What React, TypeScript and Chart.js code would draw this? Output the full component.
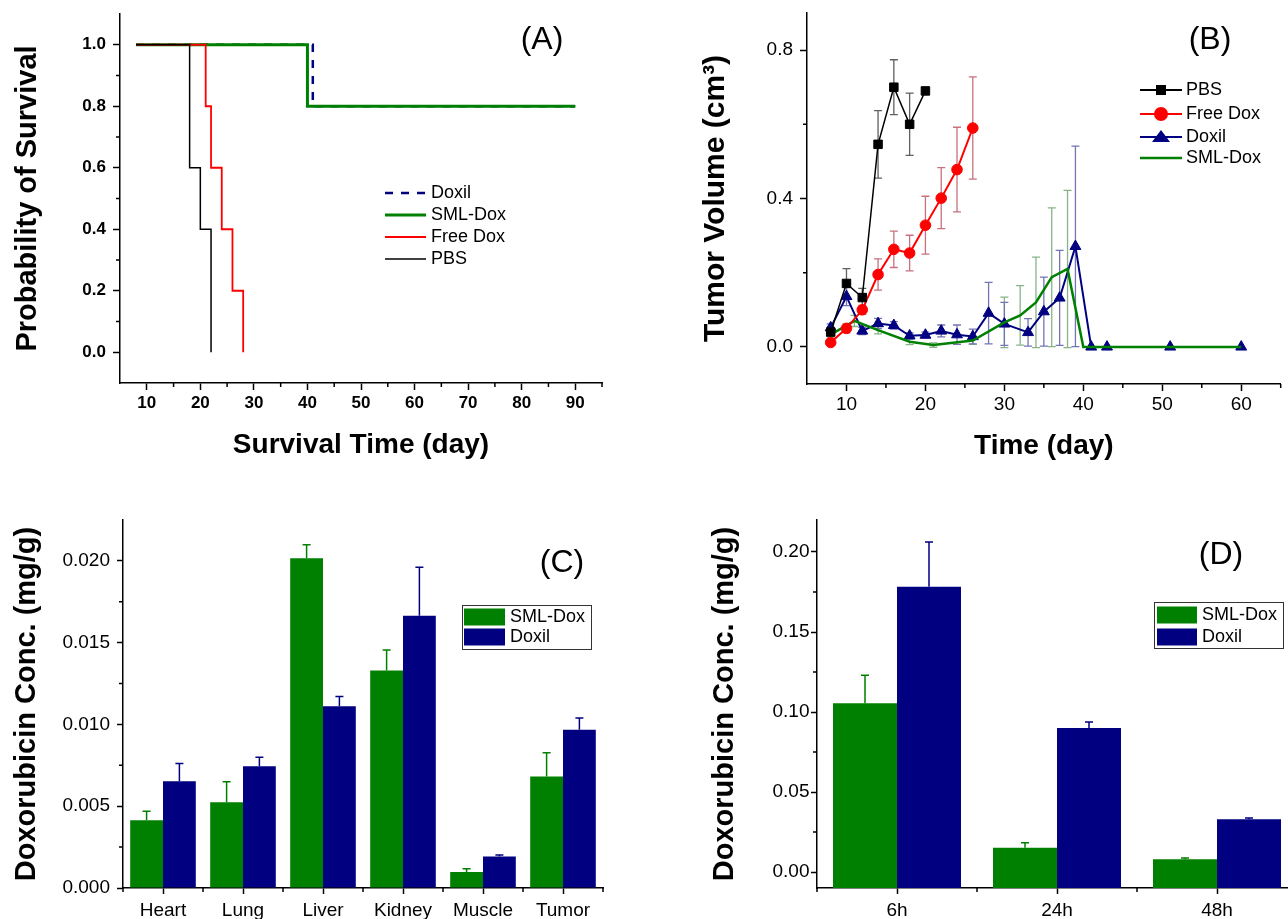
import React, { useEffect, useRef } from 'react';
import { Chart, registerables } from 'chart.js';

Chart.register(...registerables);

const FONT = '"Liberation Sans", Arial, Helvetica, sans-serif';
Chart.defaults.font.family = FONT;
Chart.defaults.color = '#000';

const GREEN = '#008000';
const NAVY = '#000080';
const RED = '#ff0000';
const BLACK = '#000000';

// ---------------- Panel A : survival ----------------
const survPbsDays = [8, 18, 20, 22];
const survPbsProb = [1.0, 0.6, 0.4, 0.0];
const survFreeDays = [8, 21, 22, 24, 26, 28];
const survFreeProb = [1.0, 0.8, 0.6, 0.4, 0.2, 0.0];
const survSmlDays = [8, 40, 90];
const survSmlProb = [1.0, 0.8, 0.8];
const survDoxilDays = [8, 41, 90];
const survDoxilProb = [1.0, 0.8, 0.8];
const aXTicks = [10, 20, 30, 40, 50, 60, 70, 80, 90];
const aXMinor = [15, 25, 35, 45, 55, 65, 75, 85, 95];
const aYTicks = [0, 0.2, 0.4, 0.6, 0.8, 1.0];
const aYMinor = [0.1, 0.3, 0.5, 0.7, 0.9];

// ---------------- Panel B : tumor volume ----------------
const pbsDays = [8, 10, 12, 14, 16, 18, 20];
const pbsVol = [0.04, 0.171, 0.133, 0.546, 0.7, 0.6, 0.69];
const pbsErr = [0.005, 0.04, 0.025, 0.091, 0.074, 0.084, 0];

const freeDays = [8, 10, 12, 14, 16, 18, 20, 22, 24, 26];
const freeVol = [0.012, 0.05, 0.1, 0.195, 0.263, 0.253, 0.328, 0.401, 0.478, 0.59];
const freeErr = [0.004, 0.012, 0.012, 0.042, 0.049, 0.048, 0.078, 0.082, 0.114, 0.138];

const doxilDays = [8, 10, 12, 14, 16, 18, 20, 22, 24, 26, 28, 30, 33, 35, 37, 39, 41, 43, 51, 60];
const doxilVol = [0.052, 0.136, 0.043, 0.063, 0.058, 0.03, 0.032, 0.043, 0.033, 0.028, 0.091, 0.062, 0.039, 0.095, 0.132, 0.271, 0, 0, 0, 0];
const doxilErr = [0.01, 0.025, 0.01, 0.014, 0.01, 0.008, 0.008, 0.016, 0.026, 0.02, 0.083, 0.058, 0.037, 0.093, 0.128, 0.27, 0, 0, 0, 0];

const smlDays = [8, 11, 14, 18, 21, 26, 30, 32, 34, 36, 38, 40, 41, 43, 51, 60];
const smlVol = [0.033, 0.07, 0.045, 0.014, 0.005, 0.017, 0.066, 0.085, 0.12, 0.188, 0.21, 0, 0, 0, 0, 0];
const smlErr = [0.006, 0.015, 0.01, 0.008, 0.006, 0.01, 0.068, 0.08, 0.122, 0.187, 0.212, 0, 0, 0, 0, 0];

const bXTicks = [10, 20, 30, 40, 50, 60];
const bXMinor = [15, 25, 35, 45, 55, 65];
const bYTicks = [0, 0.4, 0.8];
const bYMinor = [0.2, 0.6];

// ---------------- Panel C : organ distribution ----------------
const cOrgans = ['Heart', 'Lung', 'Liver', 'Kidney', 'Muscle', 'Tumor'];
const cSml = [0.00414, 0.00524, 0.02016, 0.0133, 0.00098, 0.00682];
const cSmlErr = [0.00055, 0.00125, 0.00082, 0.00125, 0.0002, 0.00145];
const cDoxil = [0.00653, 0.00745, 0.01112, 0.01665, 0.00192, 0.00967];
const cDoxilErr = [0.00108, 0.00055, 0.00059, 0.00296, 0.0001, 0.00072];
const cYTicks = [0, 0.005, 0.01, 0.015, 0.02];
const cYMinor = [0.0025, 0.0075, 0.0125, 0.0175];

// ---------------- Panel D : tumor over time ----------------
const dTimes = ['6h', '24h', '48h'];
const dSml = [0.1054, 0.0152, 0.0079];
const dSmlErr = [0.0175, 0.0031, 0.0009];
const dDoxil = [0.1783, 0.09, 0.0329];
const dDoxilErr = [0.028, 0.0038, 0.0009];
const dYTicks = [0, 0.05, 0.1, 0.15, 0.2];
const dYMinor = [0.025, 0.075, 0.125, 0.175];

// ---------------- helpers ----------------
const pts = (xs: number[], ys: number[]) => xs.map((x, i) => ({ x, y: ys[i] }));

const setTicks = (vals: number[]) => (scale: any) => {
  scale.ticks = vals.map((v) => ({ value: v }));
};

const fitScale = (w: number | null, h: number | null) => (scale: any) => {
  if (w !== null) scale.width = w;
  if (h !== null) scale.height = h;
  scale.paddingTop = 0;
  scale.paddingBottom = 0;
  scale.paddingLeft = 0;
  scale.paddingRight = 0;
};

const gridOpts = (len: number) => ({
  display: true,
  drawOnChartArea: false,
  drawTicks: true,
  tickLength: len,
  tickWidth: 1.5,
  tickColor: BLACK,
  offset: false,
});

const borderOpts = { display: true, color: BLACK, width: 1.5 };

function drawMinor(chart: any, axis: 'x' | 'y', values: number[], len: number) {
  const ctx = chart.ctx;
  const s = chart.scales[axis];
  const a = chart.chartArea;
  ctx.save();
  ctx.strokeStyle = BLACK;
  ctx.lineWidth = 1.5;
  ctx.beginPath();
  values.forEach((v) => {
    const p = s.getPixelForValue(v);
    if (axis === 'y') {
      ctx.moveTo(a.left - len, p);
      ctx.lineTo(a.left, p);
    } else {
      ctx.moveTo(p, a.bottom);
      ctx.lineTo(p, a.bottom + len);
    }
  });
  ctx.stroke();
  ctx.restore();
}

function drawErrorBars(chart: any, symmetric: boolean, capHalf: number, lw: number) {
  const ctx = chart.ctx;
  const ys = chart.scales.y;
  chart.data.datasets.forEach((ds: any, i: number) => {
    if (!ds.errors) return;
    const meta = chart.getDatasetMeta(i);
    ctx.save();
    ctx.strokeStyle = ds.errorColor;
    ctx.lineWidth = lw;
    meta.data.forEach((el: any, j: number) => {
      const e = ds.errors[j];
      if (!e) return;
      const raw = ds.data[j];
      const v = typeof raw === 'number' ? raw : raw.y;
      const x = el.x;
      const yTop = ys.getPixelForValue(v + e);
      const yBot = symmetric ? ys.getPixelForValue(v - e) : el.y;
      ctx.beginPath();
      ctx.moveTo(x, yTop);
      ctx.lineTo(x, yBot);
      ctx.moveTo(x - capHalf, yTop);
      ctx.lineTo(x + capHalf, yTop);
      if (symmetric) {
        ctx.moveTo(x - capHalf, yBot);
        ctx.lineTo(x + capHalf, yBot);
      }
      ctx.stroke();
    });
    ctx.restore();
  });
}

function drawText(ctx: any, s: string, x: number, y: number, font: string, align: string = 'left') {
  ctx.save();
  ctx.font = font;
  ctx.fillStyle = BLACK;
  ctx.textAlign = align;
  ctx.textBaseline = 'middle';
  ctx.fillText(s, x, y);
  ctx.restore();
}

const LABEL_FONT = `32px ${FONT}`;
const LEGEND_FONT = `18px ${FONT}`;

function drawLegendLine(ctx: any, x1: number, x2: number, y: number, color: string, width: number, dash: number[] = []) {
  ctx.save();
  ctx.strokeStyle = color;
  ctx.lineWidth = width;
  ctx.setLineDash(dash);
  ctx.beginPath();
  ctx.moveTo(x1, y);
  ctx.lineTo(x2, y);
  ctx.stroke();
  ctx.restore();
}

function drawMarker(ctx: any, style: string, x: number, y: number, color: string) {
  ctx.save();
  ctx.fillStyle = color;
  ctx.beginPath();
  if (style === 'rect') ctx.rect(x - 5, y - 5, 10, 10);
  else if (style === 'circle') ctx.arc(x, y, 7, 0, Math.PI * 2);
  else if (style === 'triangle') {
    ctx.moveTo(x, y - 7);
    ctx.lineTo(x + 9, y + 5);
    ctx.lineTo(x - 9, y + 5);
    ctx.closePath();
  }
  ctx.fill();
  ctx.restore();
}

function drawBarLegend(ctx: any, ox: number, oy: number, box: number[], rows: any[], textX: number, swX: number[]) {
  ctx.save();
  ctx.strokeStyle = '#333333';
  ctx.lineWidth = 1;
  ctx.strokeRect(box[0] - ox + 0.5, box[1] - oy + 0.5, box[2] - box[0], box[3] - box[1]);
  ctx.restore();
  rows.forEach((r) => {
    ctx.save();
    ctx.fillStyle = r.color;
    ctx.fillRect(swX[0] - ox, r.y - 8.5 - oy, swX[1] - swX[0], 17);
    ctx.restore();
    drawText(ctx, r.label, textX - ox, r.y - oy, LEGEND_FONT);
  });
}

// ---------------- panel boxes (page coords) ----------------
const A_BOX = { left: 0, top: 0, width: 640, height: 470 };
const B_BOX = { left: 640, top: 0, width: 648, height: 470 };
const C_BOX = { left: 0, top: 480, width: 640, height: 439 };
const D_BOX = { left: 680, top: 480, width: 630, height: 439 };

const baseOptions = (padding: any) => ({
  animation: false,
  responsive: false,
  maintainAspectRatio: false,
  events: [],
  layout: { padding },
  plugins: { legend: { display: false }, tooltip: { enabled: false }, title: { display: false } },
});

// ---------------- Panel A config ----------------
function configA() {
  const overlay = {
    id: 'overlayA',
    afterDraw(chart: any) {
      const ctx = chart.ctx;
      const ox = A_BOX.left;
      const oy = A_BOX.top;
      drawMinor(chart, 'x', aXMinor, 4);
      drawMinor(chart, 'y', aYMinor, 4);
      drawText(ctx, '(A)', 542 - ox, 40 - oy, LABEL_FONT, 'center');
      const ds = chart.data.datasets;
      const rows = [
        { ds: ds[3], y: 193, w: 2.5, dash: [8, 8] },
        { ds: ds[2], y: 215, w: 3, dash: [] },
        { ds: ds[1], y: 237, w: 2, dash: [] },
        { ds: ds[0], y: 259, w: 1.5, dash: [] },
      ];
      rows.forEach((r) => {
        drawLegendLine(ctx, 385 - ox, 426 - ox, r.y - oy, r.ds.borderColor, r.w, r.dash);
        drawText(ctx, r.ds.label, 431 - ox, r.y - oy, LEGEND_FONT);
      });
    },
  };
  return {
    type: 'line',
    data: {
      datasets: [
        { label: 'PBS', data: pts(survPbsDays, survPbsProb), borderColor: BLACK, borderWidth: 1.5, stepped: true, pointRadius: 0, fill: false },
        { label: 'Free Dox', data: pts(survFreeDays, survFreeProb), borderColor: RED, borderWidth: 1.8, stepped: true, pointRadius: 0, fill: false },
        { label: 'SML-Dox', data: pts(survSmlDays, survSmlProb), borderColor: GREEN, borderWidth: 3, stepped: true, pointRadius: 0, fill: false },
        { label: 'Doxil', data: pts(survDoxilDays, survDoxilProb), borderColor: NAVY, borderWidth: 2.5, borderDash: [8, 8], stepped: true, pointRadius: 0, fill: false },
      ],
    },
    options: {
      ...baseOptions({ left: 0, top: 14, right: 38, bottom: 0 }),
      scales: {
        x: {
          type: 'linear',
          min: 5,
          max: 95,
          afterFit: fitScale(null, 87),
          afterBuildTicks: setTicks(aXTicks),
          ticks: { font: { size: 17, weight: 'bold' }, color: BLACK, padding: 3.3, autoSkip: false, maxRotation: 0, callback: (v: any) => String(v) },
          grid: gridOpts(7),
          border: borderOpts,
          title: { display: true, text: 'Survival Time (day)', color: BLACK, font: { size: 28, weight: 'bold' }, padding: { top: 0, bottom: 8.2 } },
        },
        y: {
          type: 'linear',
          min: -0.1,
          max: 1.1,
          afterFit: fitScale(120, null),
          afterBuildTicks: setTicks(aYTicks),
          ticks: { font: { size: 17, weight: 'bold' }, color: BLACK, padding: 7, autoSkip: false, callback: (v: any) => Number(v).toFixed(1) },
          grid: gridOpts(7),
          border: borderOpts,
          title: { display: true, text: 'Probability of Survival', color: BLACK, font: { size: 29, weight: 'bold' }, padding: { top: 10.1, bottom: 0 } },
        },
      },
    },
    plugins: [overlay],
  };
}

// ---------------- Panel B config ----------------
function configB() {
  const overlay = {
    id: 'overlayB',
    beforeDatasetsDraw(chart: any) {
      drawErrorBars(chart, true, 4, 1.3);
    },
    afterDraw(chart: any) {
      const ctx = chart.ctx;
      const ox = B_BOX.left;
      const oy = B_BOX.top;
      drawMinor(chart, 'x', bXMinor, 4);
      drawMinor(chart, 'y', bYMinor, 4);
      drawText(ctx, '(B)', 1210 - ox, 40 - oy, LABEL_FONT, 'center');
      const ds = chart.data.datasets;
      const rows = [
        { ds: ds[0], y: 90, w: 2, marker: 'rect' },
        { ds: ds[1], y: 114, w: 2, marker: 'circle' },
        { ds: ds[3], y: 137, w: 2, marker: 'triangle' },
        { ds: ds[2], y: 158, w: 2.5, marker: '' },
      ];
      rows.forEach((r) => {
        drawLegendLine(ctx, 1140 - ox, 1182 - ox, r.y - oy, r.ds.borderColor, r.w);
        if (r.marker) drawMarker(ctx, r.marker, 1161 - ox, r.y - oy, r.ds.borderColor);
        drawText(ctx, r.ds.label, 1186 - ox, r.y - oy, LEGEND_FONT);
      });
    },
  };
  return {
    type: 'line',
    data: {
      datasets: [
        {
          label: 'PBS', data: pts(pbsDays, pbsVol), errors: pbsErr, errorColor: '#606060',
          borderColor: BLACK, backgroundColor: BLACK, borderWidth: 1.5, tension: 0,
          pointStyle: 'rect', pointRadius: 6, pointBackgroundColor: BLACK, pointBorderColor: BLACK, pointBorderWidth: 1,
        },
        {
          label: 'Free Dox', data: pts(freeDays, freeVol), errors: freeErr, errorColor: '#c8707e',
          borderColor: RED, backgroundColor: RED, borderWidth: 2, tension: 0,
          pointStyle: 'circle', pointRadius: 5.3, pointBackgroundColor: RED, pointBorderColor: RED, pointBorderWidth: 1,
        },
        {
          label: 'SML-Dox', data: pts(smlDays, smlVol), errors: smlErr, errorColor: '#86b486',
          borderColor: GREEN, backgroundColor: GREEN, borderWidth: 2.5, tension: 0, pointRadius: 0,
        },
        {
          label: 'Doxil', data: pts(doxilDays, doxilVol), errors: doxilErr, errorColor: '#7474b4',
          borderColor: NAVY, backgroundColor: NAVY, borderWidth: 2, tension: 0,
          pointStyle: 'triangle', pointRadius: 6.3, pointBackgroundColor: NAVY, pointBorderColor: NAVY, pointBorderWidth: 1,
        },
      ],
    },
    options: {
      ...baseOptions({ left: 0, top: 13, right: 1, bottom: 0 }),
      scales: {
        x: {
          type: 'linear',
          min: 5,
          max: 65,
          afterFit: fitScale(null, 86),
          afterBuildTicks: setTicks(bXTicks),
          ticks: { font: { size: 19 }, color: BLACK, padding: 2.6, autoSkip: false, maxRotation: 0, callback: (v: any) => String(v) },
          grid: gridOpts(7),
          border: borderOpts,
          title: { display: true, text: 'Time (day)', color: BLACK, font: { size: 28, weight: 'bold' }, padding: { top: 0, bottom: 7.2 } },
        },
        y: {
          type: 'linear',
          min: -0.1,
          max: 0.9,
          afterFit: fitScale(167, null),
          afterBuildTicks: setTicks(bYTicks),
          ticks: { font: { size: 19 }, color: BLACK, padding: 7, autoSkip: false, callback: (v: any) => Number(v).toFixed(1) },
          grid: gridOpts(7),
          border: borderOpts,
          title: { display: true, text: 'Tumor Volume (cm³)', color: BLACK, font: { size: 30, weight: 'bold' }, padding: { top: 58, bottom: 0 } },
        },
      },
    },
    plugins: [overlay],
  };
}

// ---------------- Panel C config ----------------
function configC() {
  const overlay = {
    id: 'overlayC',
    afterDatasetsDraw(chart: any) {
      drawErrorBars(chart, false, 4, 1.5);
    },
    afterDraw(chart: any) {
      const ctx = chart.ctx;
      const ox = C_BOX.left;
      const oy = C_BOX.top;
      drawMinor(chart, 'y', cYMinor, 4);
      drawMinor(chart, 'x', cOrgans.map((_, i) => i - 0.5).concat([cOrgans.length - 0.5]), 4);
      drawText(ctx, '(C)', 562 - ox, 563 - oy, LABEL_FONT, 'center');
      const ds = chart.data.datasets;
      drawBarLegend(ctx, ox, oy, [462, 605, 591, 649],
        [{ label: ds[0].label, color: ds[0].backgroundColor, y: 617 }, { label: ds[1].label, color: ds[1].backgroundColor, y: 637 }],
        510, [464, 505]);
    },
  };
  return {
    type: 'bar',
    data: {
      labels: cOrgans,
      datasets: [
        { label: 'SML-Dox', data: cSml, errors: cSmlErr, errorColor: GREEN, backgroundColor: GREEN, borderWidth: 0, categoryPercentage: 0.82, barPercentage: 1.0 },
        { label: 'Doxil', data: cDoxil, errors: cDoxilErr, errorColor: NAVY, backgroundColor: NAVY, borderWidth: 0, categoryPercentage: 0.82, barPercentage: 1.0 },
      ],
    },
    options: {
      ...baseOptions({ left: 0, top: 40, right: 37, bottom: 0 }),
      scales: {
        x: {
          type: 'category',
          offset: true,
          afterFit: fitScale(null, 31),
          ticks: { font: { size: 19 }, color: BLACK, padding: 5.6, autoSkip: false, maxRotation: 0 },
          grid: gridOpts(6),
          border: borderOpts,
        },
        y: {
          type: 'linear',
          min: 0,
          max: 0.0225,
          afterFit: fitScale(123, null),
          afterBuildTicks: setTicks(cYTicks),
          ticks: { font: { size: 19 }, color: BLACK, padding: 7, autoSkip: false, callback: (v: any) => Number(v).toFixed(3) },
          grid: gridOpts(6),
          border: borderOpts,
          title: { display: true, text: 'Doxorubicin Conc. (mg/g)', color: BLACK, font: { size: 29, weight: 'bold' }, padding: { top: 9.6, bottom: 0 } },
        },
      },
    },
    plugins: [overlay],
  };
}

// ---------------- Panel D config ----------------
function configD() {
  const overlay = {
    id: 'overlayD',
    afterDatasetsDraw(chart: any) {
      drawErrorBars(chart, false, 4, 1.5);
    },
    afterDraw(chart: any) {
      const ctx = chart.ctx;
      const ox = D_BOX.left;
      const oy = D_BOX.top;
      drawMinor(chart, 'y', dYMinor, 4);
      drawMinor(chart, 'x', dTimes.map((_, i) => i - 0.5).concat([dTimes.length - 0.5]), 4);
      drawText(ctx, '(D)', 1221 - ox, 555 - oy, LABEL_FONT, 'center');
      const ds = chart.data.datasets;
      drawBarLegend(ctx, ox, oy, [1154, 602, 1283, 648],
        [{ label: ds[0].label, color: ds[0].backgroundColor, y: 615 }, { label: ds[1].label, color: ds[1].backgroundColor, y: 637 }],
        1202, [1157, 1197]);
    },
  };
  return {
    type: 'bar',
    data: {
      labels: dTimes,
      datasets: [
        { label: 'SML-Dox', data: dSml, errors: dSmlErr, errorColor: GREEN, backgroundColor: GREEN, borderWidth: 0, base: -0.01, categoryPercentage: 0.8, barPercentage: 1.0 },
        { label: 'Doxil', data: dDoxil, errors: dDoxilErr, errorColor: NAVY, backgroundColor: NAVY, borderWidth: 0, base: -0.01, categoryPercentage: 0.8, barPercentage: 1.0 },
      ],
    },
    options: {
      ...baseOptions({ left: 0, top: 40, right: 13, bottom: 0 }),
      scales: {
        x: {
          type: 'category',
          offset: true,
          afterFit: fitScale(null, 31),
          ticks: { font: { size: 19 }, color: BLACK, padding: 5.6, autoSkip: false, maxRotation: 0 },
          grid: gridOpts(6),
          border: borderOpts,
        },
        y: {
          type: 'linear',
          min: -0.01,
          max: 0.22,
          afterFit: fitScale(137, null),
          afterBuildTicks: setTicks(dYTicks),
          ticks: { font: { size: 19 }, color: BLACK, padding: 1.5, autoSkip: false, callback: (v: any) => Number(v).toFixed(2) },
          grid: gridOpts(6),
          border: borderOpts,
          title: { display: true, text: 'Doxorubicin Conc. (mg/g)', color: BLACK, font: { size: 29, weight: 'bold' }, padding: { top: 27.6, bottom: 0 } },
        },
      },
    },
    plugins: [overlay],
  };
}

function ChartBox({ box, make }: { box: any; make: () => any }) {
  const ref = useRef<HTMLCanvasElement>(null);
  useEffect(() => {
    const chart = new Chart(ref.current as HTMLCanvasElement, make());
    return () => chart.destroy();
  }, []);
  return (
    <canvas
      ref={ref}
      width={box.width}
      height={box.height}
      style={{ position: 'absolute', left: box.left, top: box.top, width: box.width, height: box.height }}
    />
  );
}

export default function App() {
  return (
    <div style={{ position: 'absolute', left: 0, top: 0, width: 1288, height: 919, overflow: 'hidden', background: '#ffffff' }}>
      <ChartBox box={A_BOX} make={configA} />
      <ChartBox box={B_BOX} make={configB} />
      <ChartBox box={C_BOX} make={configC} />
      <ChartBox box={D_BOX} make={configD} />
    </div>
  );
}
